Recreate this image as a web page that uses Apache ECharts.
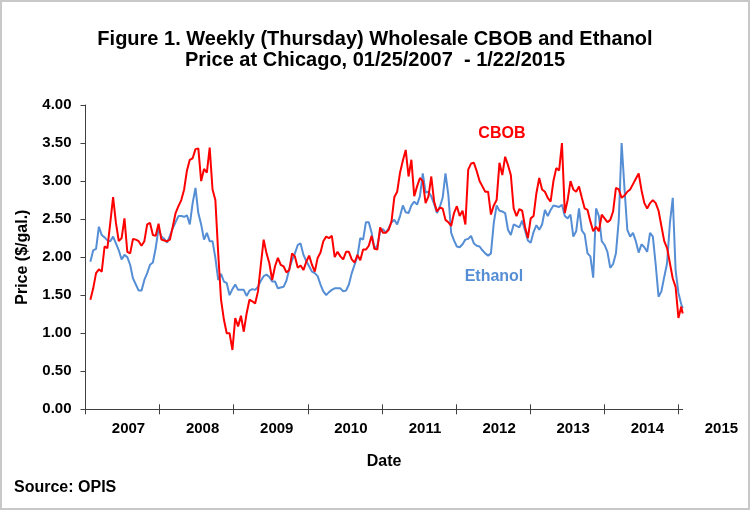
<!DOCTYPE html>
<html>
<head>
<meta charset="utf-8">
<script src="https://cdn.jsdelivr.net/npm/echarts@6/dist/echarts.min.js"></script>
<style>
html,body{margin:0;padding:0;background:#fff;}
#c{width:750px;height:510px;}
</style>
</head>
<body>
<div id="c"></div>
<script>
// ---- data (every second week) ----
const yearLabels = ['2007','2008','2009','2010','2011','2012','2013','2014','2015'];
const startDate = '2007-01-25';
const endDate = '2015-01-22';
const stepDays = 14;

const cbob = [
 1.44,1.59,1.79,1.84,1.81,2.14,2.12,2.45,2.79,2.45,
 2.21,2.25,2.51,2.07,2.05,2.24,2.23,2.21,2.15,2.21,
 2.43,2.45,2.29,2.28,2.44,2.23,2.22,2.21,2.23,2.40,
 2.58,2.67,2.75,2.89,3.14,3.28,3.30,3.42,3.43,3.00,
 3.16,3.11,3.44,2.89,2.75,2.05,1.44,1.18,1.00,1.00,
 0.78,1.20,1.09,1.23,1.02,1.26,1.44,1.42,1.39,1.55,
 1.90,2.23,2.05,1.92,1.70,1.88,1.99,1.90,1.88,1.80,
 1.83,2.05,2.01,1.86,1.89,1.83,1.94,2.02,1.90,1.81,
 1.99,2.06,2.21,2.27,2.25,2.28,2.00,2.07,2.01,1.97,
 2.07,2.07,1.97,1.93,2.03,1.96,2.10,2.10,2.15,2.28,
 2.11,2.10,2.39,2.32,2.32,2.36,2.47,2.79,2.86,3.11,
 3.27,3.41,3.06,3.28,2.80,2.93,3.04,3.00,2.71,2.80,
 3.06,2.73,2.60,2.65,2.64,2.49,2.46,2.41,2.58,2.67,
 2.54,2.61,2.43,3.15,3.23,3.24,3.13,3.00,2.93,2.86,
 2.86,2.56,2.68,2.75,3.24,3.08,3.32,3.21,3.08,2.64,
 2.54,2.63,2.61,2.40,2.25,2.51,2.54,2.84,3.04,2.89,
 2.86,2.78,2.73,3.00,3.17,3.14,3.50,2.58,2.75,3.00,
 2.89,2.86,2.93,2.78,2.64,2.62,2.47,2.34,2.40,2.34,
 2.56,2.51,2.46,2.49,2.60,2.91,2.89,2.78,2.81,2.86,
 2.89,2.96,3.03,3.10,2.88,2.71,2.64,2.71,2.75,2.71,
 2.61,2.41,2.21,2.12,1.92,1.72,1.61,1.20,1.35,
 1.26
];

const ethanol = [
 1.94,2.09,2.11,2.40,2.29,2.26,2.22,2.21,2.27,2.18,
 2.09,1.97,2.03,2.00,1.90,1.72,1.64,1.56,1.56,1.70,
 1.79,1.90,1.93,2.12,2.38,2.27,2.24,2.19,2.28,2.38,
 2.46,2.54,2.54,2.53,2.55,2.43,2.71,2.91,2.58,2.43,
 2.23,2.32,2.21,2.21,1.99,1.70,1.78,1.68,1.66,1.50,
 1.58,1.64,1.57,1.57,1.57,1.49,1.56,1.58,1.57,1.61,
 1.69,1.75,1.77,1.74,1.68,1.68,1.59,1.60,1.61,1.69,
 1.84,1.96,2.05,2.16,2.18,2.03,1.95,1.88,1.81,1.79,
 1.75,1.64,1.55,1.50,1.54,1.57,1.59,1.59,1.59,1.55,
 1.56,1.64,1.79,1.90,2.01,2.25,2.23,2.46,2.46,2.32,
 2.11,2.15,2.34,2.37,2.32,2.38,2.46,2.49,2.43,2.54,
 2.68,2.59,2.58,2.68,2.73,2.69,2.80,3.10,2.85,2.86,
 2.80,2.70,2.58,2.66,2.78,3.10,2.82,2.32,2.22,2.14,
 2.13,2.17,2.23,2.24,2.28,2.18,2.15,2.14,2.09,2.05,
 2.02,2.05,2.45,2.68,2.61,2.60,2.58,2.36,2.29,2.43,
 2.41,2.39,2.48,2.35,2.22,2.19,2.33,2.42,2.36,2.43,
 2.62,2.54,2.62,2.68,2.67,2.66,2.69,2.54,2.51,2.56,
 2.27,2.34,2.64,2.35,2.30,2.05,2.01,1.73,2.64,2.54,
 2.21,2.16,2.07,1.86,1.91,2.05,2.49,3.50,2.91,2.36,
 2.27,2.32,2.21,2.06,2.17,2.13,2.07,2.32,2.27,1.90,
 1.48,1.55,1.74,1.92,2.45,2.78,1.83,1.53,1.38,
 1.33
];

// series label anchors (date as day-of-axis, price)
const cbobLabel = { text: 'CBOB', day: 2052, price: 3.63 };
const ethanolLabel = { text: 'Ethanol', day: 2013, price: 1.75 };

// ---- build x values (days since 2007-01-01) ----
const epoch = Date.UTC(2007, 0, 1);
const dayOf = s => Math.round((Date.parse(s + 'T00:00:00Z') - epoch) / 86400000);
const days = [];
for (let d = dayOf(startDate); d < dayOf(endDate); d += stepDays) days.push(d);
days.push(dayOf(endDate));
const yearTicks = yearLabels.map((_, i) => i * 365.25);
const xMax = dayOf(endDate);

const FONT = "'Liberation Sans', Arial, sans-serif";
const AXIS_COLOR = '#404040';

const chart = echarts.init(document.getElementById('c'), null, { renderer: 'canvas' });
chart.setOption({
  animation: false,
  backgroundColor: '#fff',
  title: {
    text: 'Figure 1. Weekly (Thursday) Wholesale CBOB and Ethanol\nPrice at Chicago, 01/25/2007  - 1/22/2015',
    left: 'center',
    top: 24,
    textStyle: { fontFamily: FONT, fontWeight: 'bold', fontSize: 20, lineHeight: 21, color: '#000' }
  },
  graphic: [
    { type: 'rect', silent: true, shape: { x: 1, y: 1, width: 748, height: 508 },
      style: { fill: 'none', stroke: '#c8c8c8', lineWidth: 2 } },
    { type: 'text', silent: true, left: 14, top: 480,
      style: { text: 'Source: OPIS', font: "bold 16px 'Liberation Sans', Arial, sans-serif", fill: '#000' } }
  ],
  grid: { left: 85.5, right: 67.3, top: 105, bottom: 100.7, containLabel: false },
  xAxis: [{
    type: 'value', min: 0, max: xMax, position: 'bottom',
    name: 'Date', nameLocation: 'middle', nameGap: 44,
    nameTextStyle: { fontFamily: FONT, fontWeight: 'bold', fontSize: 16, color: '#000' },
    axisLine: { show: true, lineStyle: { color: AXIS_COLOR, width: 1 } },
    axisTick: { show: true, length: 5, customValues: yearTicks, lineStyle: { color: AXIS_COLOR } },
    splitLine: { show: false },
    axisLabel: {
      customValues: yearTicks, margin: 12, padding: [0, 0, 0, 86],
      fontFamily: FONT, fontWeight: 'bold', fontSize: 15, color: '#000',
      formatter: v => yearLabels[Math.round(v / 365.25)]
    }
  }, {
    type: 'value', min: 0, max: xMax, position: 'bottom',
    axisLine: { show: false },
    axisTick: { show: true, inside: true, length: 5, customValues: yearTicks, lineStyle: { color: AXIS_COLOR } },
    axisLabel: { show: false },
    splitLine: { show: false }
  }],
  yAxis: {
    type: 'value', min: 0, max: 4, interval: 0.5,
    name: 'Price ($/gal.)', nameLocation: 'middle', nameGap: 55, nameRotate: 90,
    nameTextStyle: { fontFamily: FONT, fontWeight: 'bold', fontSize: 16, color: '#000' },
    axisLine: { show: true, lineStyle: { color: AXIS_COLOR, width: 1 } },
    axisTick: { show: true, length: 5, lineStyle: { color: AXIS_COLOR } },
    splitLine: { show: false },
    axisLabel: {
      margin: 14, fontFamily: FONT, fontWeight: 'bold', fontSize: 15, color: '#000',
      formatter: v => v.toFixed(2)
    }
  },
  series: [{
    name: 'Ethanol', type: 'line', xAxisIndex: 0,
    data: days.map((d, i) => [d, ethanol[i]]),
    showSymbol: false, symbol: 'none',
    lineStyle: { color: '#558ED5', width: 2 },
    itemStyle: { color: '#558ED5' },
    markPoint: {
      silent: true, symbol: 'circle', symbolSize: 0,
      data: [{ coord: [ethanolLabel.day, ethanolLabel.price] }],
      label: { show: true, position: 'inside', formatter: ethanolLabel.text,
        fontFamily: FONT, fontWeight: 'bold', fontSize: 16, color: '#558ED5' }
    }
  }, {
    name: 'CBOB', type: 'line', xAxisIndex: 0,
    data: days.map((d, i) => [d, cbob[i]]),
    showSymbol: false, symbol: 'none',
    lineStyle: { color: '#FF0000', width: 2 },
    itemStyle: { color: '#FF0000' },
    markPoint: {
      silent: true, symbol: 'circle', symbolSize: 0,
      data: [{ coord: [cbobLabel.day, cbobLabel.price] }],
      label: { show: true, position: 'inside', formatter: cbobLabel.text,
        fontFamily: FONT, fontWeight: 'bold', fontSize: 16, color: '#FF0000' }
    }
  }]
});
</script>
</body>
</html>
